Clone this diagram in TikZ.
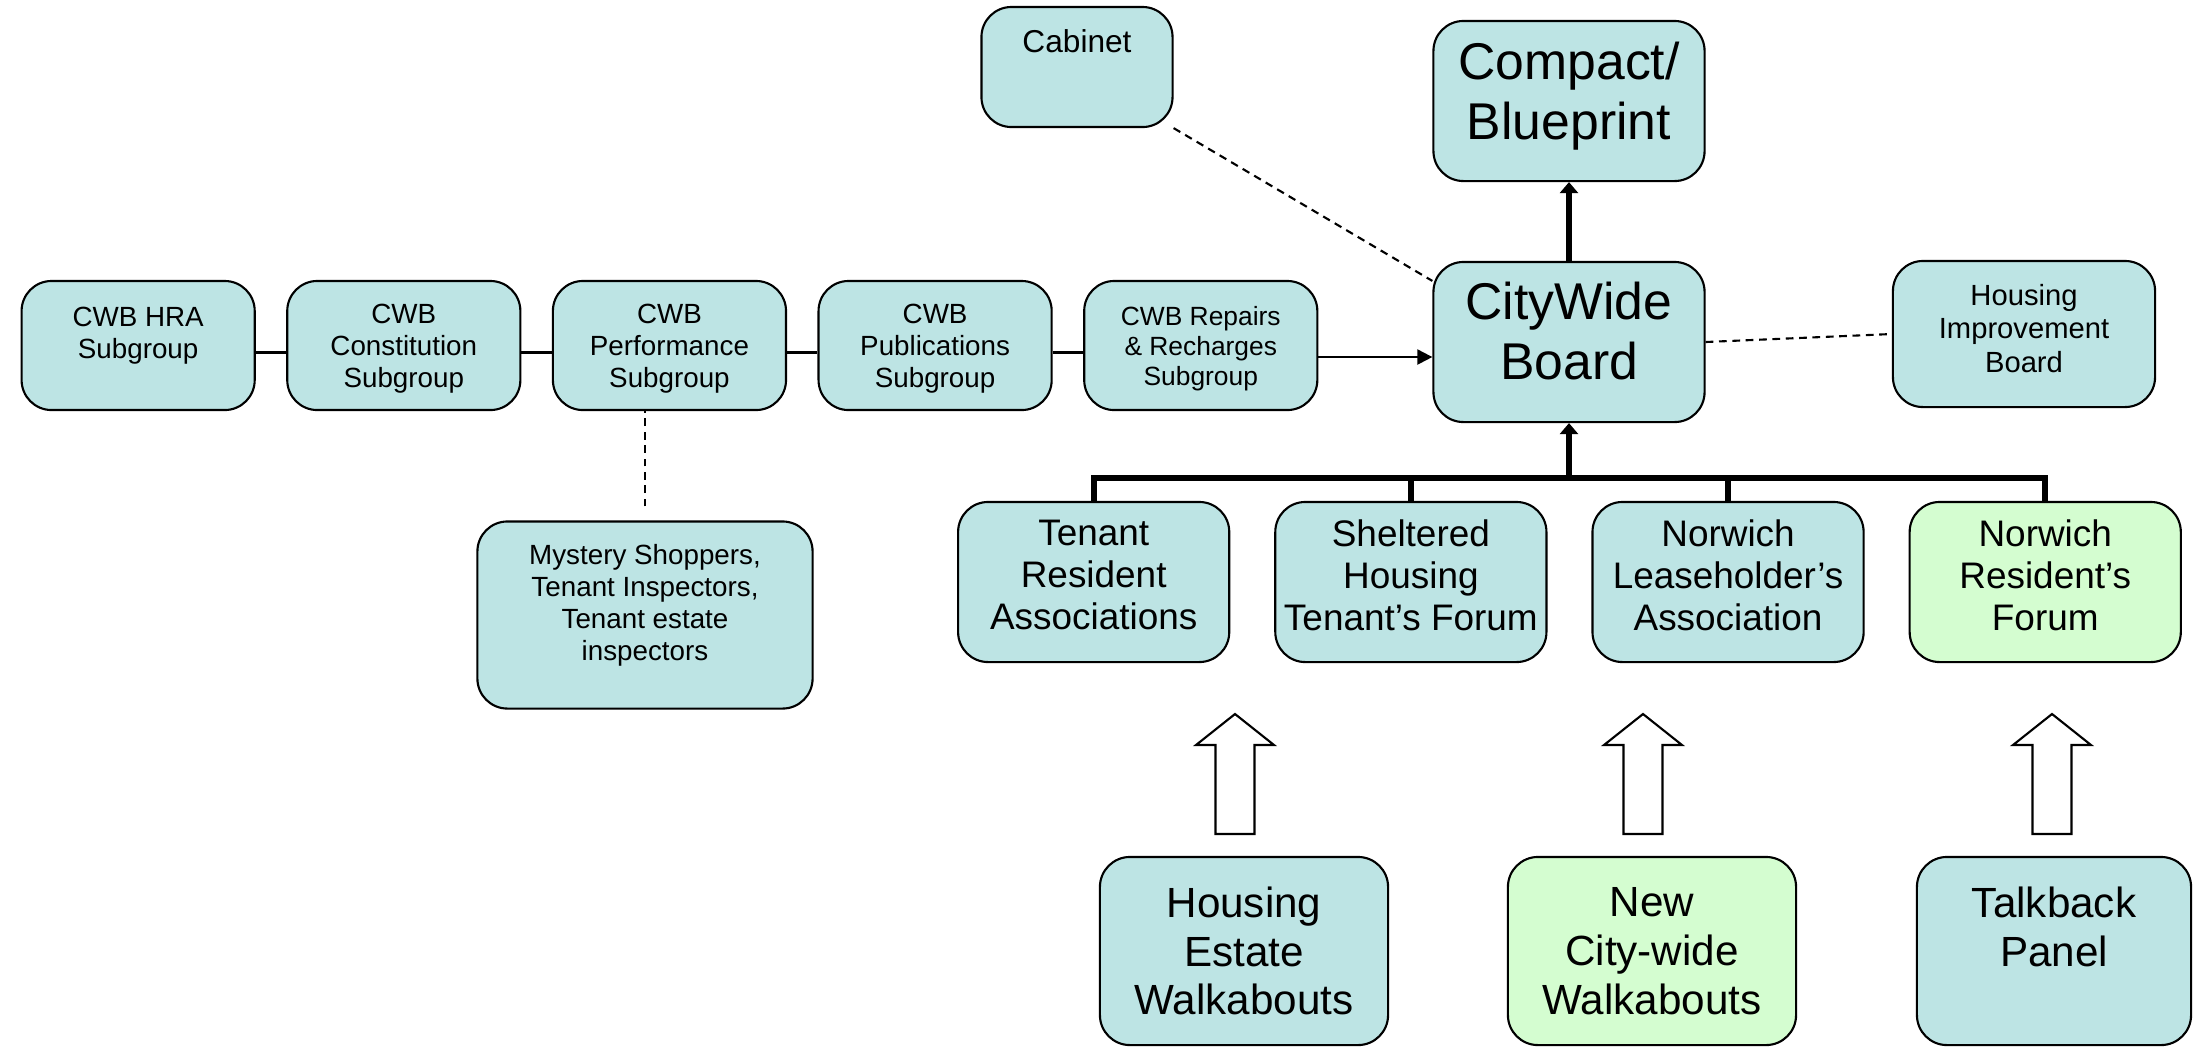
\documentclass[tikz,border=0pt]{standalone}
\usepackage{fontspec}
\setmainfont{Liberation Sans}
\usetikzlibrary{arrows.meta,positioning}
\definecolor{boxteal}{RGB}{189,228,228}
\definecolor{boxgreen}{RGB}{212,253,208}

\begin{document}
\begin{tikzpicture}[x=0.01cm,y=-0.01cm,
	box/.style={draw,line width=0.6pt,rounded corners=0.3cm,fill=boxteal,align=center,inner sep=0pt},
	greenbox/.style={box,fill=boxgreen},
	thinline/.style={line width=0.6pt},
	dashline/.style={line width=0.6pt,dash pattern=on 2.2pt off 1.6pt},
	treeline/.style={line width=1.7pt},
	hollow/.style={line width=0.6pt,fill=white,line join=miter}]
	\useasboundingbox (0,0) rectangle (2193,1047);

							\foreach \txt/\fs/\bs [count=\n] in {{CWB HRA\\Subgroup\\~}/7.9/9.1,{CWB\\Constitution\\Subgroup}/7.9/9.1,{CWB\\Performance\\Subgroup}/7.9/9.1,{CWB\\Publications\\Subgroup}/7.9/9.1,{CWB Repairs\\\& Recharges\\Subgroup}/7.5/8.6}
           						\node[box,minimum width=2.33cm,minimum height=1.29cm,xshift=\n*2.655cm,font=\fontsize{\fs}{\bs}\selectfont] (S\n) at (-127.5,345.5) {\rule{0pt}{7.3pt}\txt};

							\node[box,minimum width=1.91cm,minimum height=1.2cm,font=\fontsize{9}{10.4}\selectfont] (Cab) at (1077,67) {Cabinet\\[4.6pt]~};
							\node[box,minimum width=2.71cm,minimum height=1.6cm,font=\fontsize{14.7}{16.9}\selectfont] (CP) at (1569,101) {Compact/\\Blueprint\\[-11pt]~};
							\node[box,minimum width=2.71cm,minimum height=1.6cm,font=\fontsize{14.7}{16.9}\selectfont] (CWB) at (1569,342) {CityWide\\Board\\[-10.5pt]~};
							\node[box,minimum width=2.62cm,minimum height=1.46cm,font=\fontsize{8.3}{9.6}\selectfont] (HIB) at (2024,334) {Housing\\Improvement\\Board\\[-6.4pt]~};
							\node[box,minimum width=3.35cm,minimum height=1.87cm,font=\fontsize{7.9}{9.1}\selectfont] (Mys) at (645,615) {Mystery Shoppers,\\Tenant Inspectors,\\Tenant estate\\inspectors\\[-2.2pt]~};

							\foreach \txt/\col [count=\n] in {{Tenant\\Resident\\Associations}/boxteal,{Sheltered\\Housing\\Tenant’s Forum}/boxteal,{Norwich\\Leaseholder’s\\Association}/boxteal,{Norwich\\Resident’s\\Forum}/boxgreen}
           						\node[box,fill=\col,minimum width=2.71cm,minimum height=1.6cm,xshift=\n*3.17cm,font=\fontsize{10.5}{12}\selectfont] (F\n) at (776.5,582) {\txt\\[-8pt]~};

							\node[box,minimum width=2.88cm,minimum height=1.88cm,font=\fontsize{12}{13.9}\selectfont] (W1) at (1244,951) {Housing\\Estate\\Walkabouts};
							\node[greenbox,minimum width=2.88cm,minimum height=1.88cm,font=\fontsize{12}{13.9}\selectfont] (W2) at (1652,951) {New\\City-wide\\Walkabouts};
							\node[box,minimum width=2.74cm,minimum height=1.88cm,font=\fontsize{12}{13.9}\selectfont] (W3) at (2054,951) {Talkback\\Panel\\~};

							\foreach \x in {1235,1643,2052}
           						\draw[hollow] (\x-19.5,834) -- (\x-19.5,745) -- (\x-39,745) -- (\x,714) -- (\x+39,745) -- (\x+19.5,745) -- (\x+19.5,834) -- cycle;

							\foreach \n [count=\m from 2] in {1,...,4}
           						\draw[thinline] ([yshift=-0.07cm]S\n.east) -- ([yshift=-0.07cm]S\m.west);

							\coordinate (rp) at ([yshift=-0.115cm]S5.east);
							\draw[thinline,-{Triangle[length=0.15cm,width=0.15cm]}] (rp) -- (rp -| CWB.west);

							\coordinate (J) at (1569,478);
							\draw[treeline] (F1.north) |- (J) -| (F4.north);
							\draw[treeline] (F2.north) -- (F2.north |- J);
							\draw[treeline] (F3.north) -- (F3.north |- J);
							\draw[treeline,-{Triangle[length=0.11cm,width=0.18cm]}] (J) -- (CWB.south);
							\draw[treeline,-{Triangle[length=0.11cm,width=0.18cm]}] (CWB.north) -- (CP.south);

							\draw[dashline] (Cab.south east) -- ([yshift=-0.2cm]CWB.north west);
							\draw[dashline] (CWB.east) -- (HIB.west);
							\draw[dashline] (Mys.north) ++(0,-14) -- (Mys.north |- S3.south);
\end{tikzpicture}
\end{document}
